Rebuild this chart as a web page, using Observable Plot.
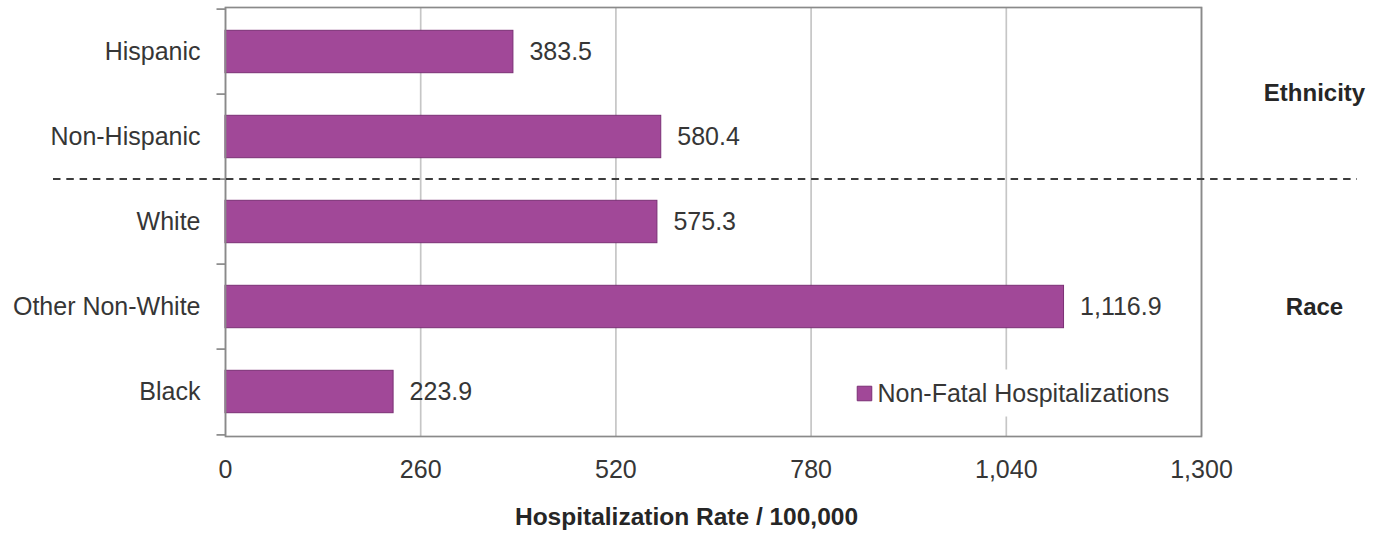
<!DOCTYPE html>
<html>
<head>
<meta charset="utf-8">
<script src="https://cdn.jsdelivr.net/npm/d3@7"></script>
<script src="https://cdn.jsdelivr.net/npm/@observablehq/plot@0.6"></script>
<style>
  html, body { margin: 0; padding: 0; background: #fff; }
  #chart svg { display: block; }
</style>
</head>
<body>
<div id="chart"></div>
<script>
// Hospitalization rates per 100,000 by ethnicity and race
const categories = ["Hispanic", "Non-Hispanic", "White", "Other Non-White", "Black"];
const rates = [383.5, 580.4, 575.3, 1116.9, 223.9];
const xTicks = [0, 260, 520, 780, 1040, 1300];
const seriesName = "Non-Fatal Hospitalizations";
const xTitle = "Hospitalization Rate / 100,000";
const ethnicityGroup = {name: "Ethnicity", after: "Non-Hispanic"};
const raceGroup = {name: "Race", center: "Other Non-White"};

const rows = categories.map((c, i) => ({category: c, rate: rates[i]}));

const W = 1378, H = 533;
const margin = {top: 7, right: 177, bottom: 97, left: 225};
const step = (H - margin.top - margin.bottom) / categories.length;

const barFill = "#a14898";
const barStroke = "#7a2f75";
const textColor = "#363636";
const font = "'Liberation Sans', Arial, sans-serif";
const fmt = d3.format(",.1f");

const chart = Plot.plot({
  width: W,
  height: H,
  marginTop: margin.top,
  marginRight: margin.right,
  marginBottom: margin.bottom,
  marginLeft: margin.left,
  style: {fontFamily: font, fontSize: "25px", color: textColor, background: "#fff"},
  x: {domain: [0, 1300]},
  y: {domain: categories, padding: 0},
  marks: [
    Plot.gridX(xTicks, {stroke: "#c6c6c6", strokeOpacity: 1, strokeWidth: 1.7}),
    // legend background cuts the grid line
    Plot.frame({fill: "white", stroke: null, insetLeft: 625, insetRight: 26, insetTop: 362, insetBottom: 20}),
    Plot.barX(rows, {
      x: "rate", y: "category",
      fill: barFill, stroke: barStroke, strokeWidth: 1,
      insetTop: 21.3, insetBottom: 21.3
    }),
    Plot.frame({stroke: "#8a8a8a", strokeWidth: 1.7}),
    // category boundary ticks on the left axis
    Plot.ruleY(categories, {y: d => d, dy: -step / 2, stroke: "#8a8a8a", strokeWidth: 1.7, insetLeft: -8.5, insetRight: 976}),
    Plot.ruleY(categories.slice(-1), {y: d => d, dy: step / 2, stroke: "#8a8a8a", strokeWidth: 1.7, insetLeft: -8.5, insetRight: 976}),
    // separator between ethnicity and race groups
    Plot.ruleY([ethnicityGroup], {
      y: d => d.after, dy: step / 2 - 1,
      stroke: "#3c3c3c", strokeWidth: 2, strokeDasharray: "7.5,5.8",
      insetLeft: -172, insetRight: -156
    }),
    Plot.text(rows, {
      x: "rate", y: "category", text: d => fmt(d.rate),
      dx: 16, textAnchor: "start", fill: textColor, fontSize: 25
    }),
    Plot.text([ethnicityGroup], {
      y: d => d.after, dy: -step / 2 - 1, frameAnchor: "right", dx: 113,
      text: d => d.name, textAnchor: "middle", fontWeight: "bold", fill: "#262626", fontSize: 24
    }),
    Plot.text([raceGroup], {
      y: d => d.center, frameAnchor: "right", dx: 113,
      text: d => d.name, textAnchor: "middle", fontWeight: "bold", fill: "#262626", fontSize: 24
    }),
    // legend
    Plot.dot([seriesName], {
      frameAnchor: "bottom-right", dx: -337, dy: -43,
      symbol: "square", r: 8.2, fill: barFill, stroke: barStroke, strokeWidth: 1
    }),
    Plot.text([seriesName], {
      frameAnchor: "bottom-right", dx: -324, dy: -43,
      text: d => d, textAnchor: "start", lineAnchor: "middle", fill: textColor, fontSize: 25
    }),
    // axis title
    Plot.text([xTitle], {
      frameAnchor: "bottom", dx: -27, dy: 81,
      text: d => d, textAnchor: "middle", lineAnchor: "middle",
      fontWeight: "bold", fill: "#262626", fontSize: 24.5
    }),
    Plot.axisY({tickSize: 0, tickPadding: 25, label: null, fontSize: 25, fill: textColor}),
    Plot.axisX({ticks: xTicks, tickFormat: d3.format(","), tickSize: 0, tickPadding: 24, label: null, fontSize: 25, fill: textColor})
  ]
});

document.getElementById("chart").appendChild(chart);
</script>
</body>
</html>
